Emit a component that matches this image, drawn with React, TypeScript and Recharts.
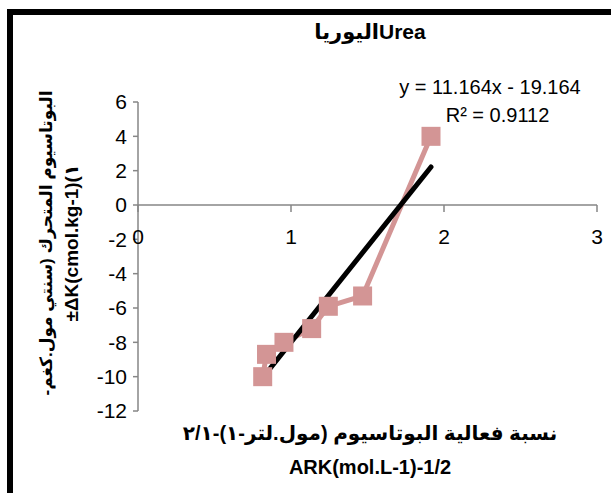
import React from 'react';
import { ComposedChart, Line, XAxis, YAxis, ReferenceLine } from 'recharts';

// measured points (ARK vs ΔK)
const arkValues = [0.815, 0.84, 0.954, 1.135, 1.244, 1.468, 1.915];
const deltaK = [-10.0, -8.7, -8.0, -7.2, -5.9, -5.3, 4.0];

// Excel linear trendline
const slope = 11.164;
const intercept = -19.164;
const rSquared = 0.9112;

const xTicks = [0, 1, 2, 3];
const yTicks = [-12, -10, -8, -6, -4, -2, 0, 2, 4, 6];

const W = 611;
const H = 493;
const PLOT_TOP = 102;
const PLOT_BOTTOM = 411;
const Y_MIN = -12;
const Y_MAX = 6;
const AXIS_GRAY = '#868686';
const PINK = '#D39595';
const FONT = '"Liberation Sans", "DejaVu Sans", sans-serif';

const points = arkValues.map((x, i) => ({ x, y: deltaK[i] }));
const xMin = Math.min(...arkValues);
const xMax = Math.max(...arkValues);
const trend = [xMin, xMax].map((x) => ({ x, y: slope * x + intercept }));

const zeroY = PLOT_TOP + ((Y_MAX - 0) / (Y_MAX - Y_MIN)) * (PLOT_BOTTOM - PLOT_TOP);

const XTick = (props: any) => {
    const { x, payload } = props;
    return (
        <g>
            <line x1={x} x2={x} y1={zeroY} y2={zeroY + 7} stroke={AXIS_GRAY} strokeWidth={1.5} />
            <text x={x} y={zeroY + 39} textAnchor="middle" fontSize={21} fill="#000" fontFamily={FONT}>
                {payload.value}
            </text>
        </g>
    );
};

const SquareDot = (props: any) => {
    const { cx, cy, index } = props;
    if (cx == null || cy == null) return null;
    return <rect key={`sq-${index}`} x={cx - 9.5} y={cy - 9.5} width={19} height={19} fill={PINK} />;
};

const App: React.FC = () => {
    return (
        <div style={{ position: 'absolute', left: 0, top: 0, width: W, height: H, overflow: 'hidden', background: '#fff' }}>
            <div
                style={{
                    position: 'absolute',
                    left: 7,
                    top: 9,
                    width: 700,
                    height: 600,
                    borderLeft: '6px solid #000',
                    borderTop: '6px solid #000',
                }}
            />
            <ComposedChart
                width={W}
                height={H}
                margin={{ top: PLOT_TOP, right: 14, bottom: 52, left: 78 }}
                style={{ position: 'absolute', left: 0, top: 0 }}
            >
                <XAxis
                    type="number"
                    dataKey="x"
                    domain={[0, 3]}
                    ticks={xTicks}
                    axisLine={false}
                    tickLine={false}
                    tick={<XTick />}
                    height={30}
                    allowDataOverflow
                />
                <YAxis
                    type="number"
                    domain={[Y_MIN, Y_MAX]}
                    ticks={yTicks}
                    width={60}
                    axisLine={{ stroke: AXIS_GRAY, strokeWidth: 1.5 }}
                    tickLine={{ stroke: AXIS_GRAY, strokeWidth: 1.5 }}
                    tickSize={5}
                    tickMargin={6}
                    tick={{ fontSize: 21, fill: '#000', fontFamily: FONT }}
                    interval={0}
                />
                <ReferenceLine y={0} stroke={AXIS_GRAY} strokeWidth={1.5} />
                <Line
                    data={points}
                    dataKey="y"
                    type="linear"
                    stroke={PINK}
                    strokeWidth={5}
                    dot={<SquareDot />}
                    isAnimationActive={false}
                />
                <Line
                    data={trend}
                    dataKey="y"
                    type="linear"
                    stroke="#000"
                    strokeWidth={5}
                    strokeLinecap="round"
                    dot={false}
                    isAnimationActive={false}
                />
            </ComposedChart>

            <div style={{ position: 'absolute', left: 200, width: 340, top: 19, textAlign: 'center', fontFamily: FONT, fontWeight: 'bold', fontSize: 21, lineHeight: '26px' }}>
                اليورياUrea
            </div>
            <div style={{ position: 'absolute', left: 380, width: 220, top: 74, textAlign: 'center', fontFamily: FONT, fontSize: 20, lineHeight: '26px' }}>
                {`y = ${slope}x - ${Math.abs(intercept)}`}
            </div>
            <div style={{ position: 'absolute', left: 400, width: 195, top: 102, textAlign: 'center', fontFamily: FONT, fontSize: 20, lineHeight: '26px' }}>
                R² = {rSquared}
            </div>
            <div style={{ position: 'absolute', left: 150, width: 440, top: 416, textAlign: 'center', fontFamily: FONT, fontWeight: 'bold', fontSize: 20, lineHeight: '34px' }}>
                <div>نسبة فعالية البوتاسيوم (مول.لتر-١)-٢/١</div>
                <div>ARK(mol.L-1)-1/2</div>
            </div>
            <div
                style={{
                    position: 'absolute',
                    left: 60 - 170,
                    top: 243 - 26,
                    width: 340,
                    height: 52,
                    transform: 'rotate(-90deg)',
                    textAlign: 'center',
                    fontFamily: FONT,
                    fontWeight: 'bold',
                    whiteSpace: 'nowrap',
                    lineHeight: '25px',
                }}
            >
                <div style={{ fontSize: 17, direction: 'rtl' }}>البوتاسيوم المتحرك (سنتي مول.كغم-</div>
                <div style={{ fontSize: 19 }}>±ΔK(cmol.kg-1)(١</div>
            </div>
        </div>
    );
};

export default App;
